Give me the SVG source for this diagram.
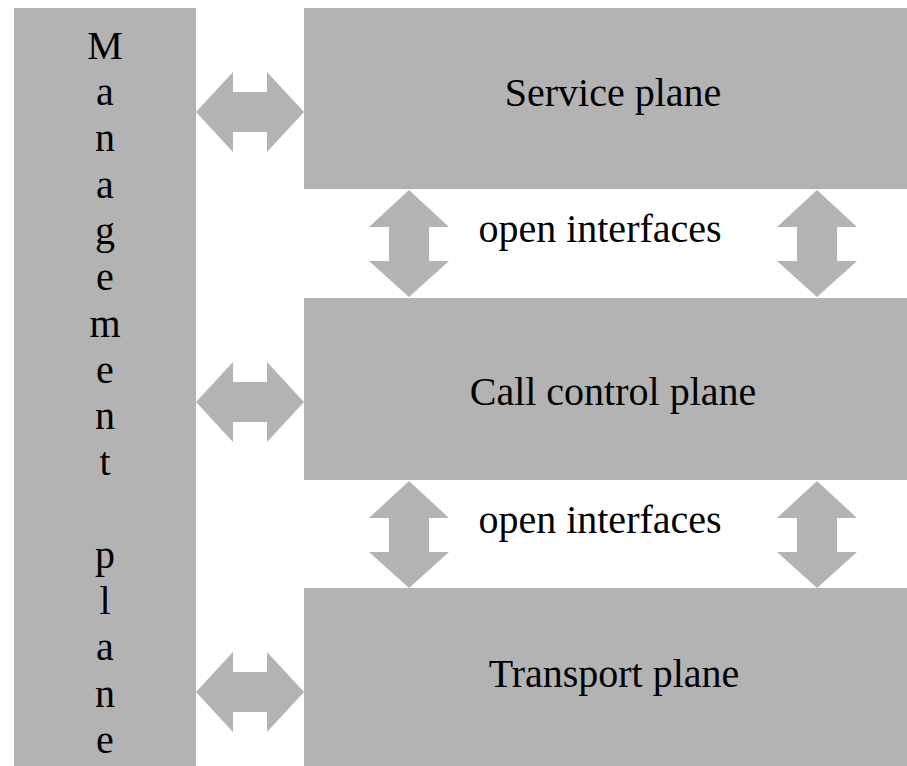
<svg xmlns="http://www.w3.org/2000/svg" width="907" height="766" viewBox="0 0 907 766">
<style>
.box{fill:#b3b3b3}
.arr{fill:#b3b3b3}
.t{font-family:"Liberation Serif","Times New Roman",serif;font-size:40px;fill:#000;text-anchor:middle}
</style>
<defs>
<polygon id="harr" points="196,0 233,-40 233,-20 267,-20 267,-40 304,0 267,40 267,20 233,20 233,40"/>
<polygon id="varr" points="0,0 40,37 20,37 20,71 40,71 0,107 -40,71 -20,71 -20,37 -40,37"/>
</defs>
<rect width="907" height="766" fill="#fff"/>
<g id="management">
<rect class="box" x="14" y="8" width="182" height="758"/>
<text class="t" x="105" y="59">M</text>
<text class="t" x="105" y="105">a</text>
<text class="t" x="105" y="151">n</text>
<text class="t" x="105" y="198">a</text>
<text class="t" x="105" y="244">g</text>
<text class="t" x="105" y="290">e</text>
<text class="t" x="105" y="337">m</text>
<text class="t" x="105" y="383">e</text>
<text class="t" x="105" y="429">n</text>
<text class="t" x="105" y="475">t</text>
<text class="t" x="105" y="568">p</text>
<text class="t" x="105" y="614">l</text>
<text class="t" x="105" y="660">a</text>
<text class="t" x="105" y="707">n</text>
<text class="t" x="105" y="753">e</text>
</g>
<g id="service">
<rect class="box" x="304" y="8" width="603" height="181"/>
<text class="t" x="613" y="106">Service plane</text>
</g>
<g id="callcontrol">
<rect class="box" x="304" y="298" width="603" height="182"/>
<text class="t" x="613" y="405">Call control plane</text>
</g>
<g id="transport">
<rect class="box" x="304" y="588" width="603" height="178"/>
<text class="t" x="614" y="687">Transport plane</text>
</g>
<g id="labels">
<text class="t" x="600" y="242">open interfaces</text>
<text class="t" x="600" y="533">open interfaces</text>
</g>
<g id="connectors" class="arr">
<use href="#harr" transform="translate(0,112)"/>
<use href="#harr" transform="translate(0,402)"/>
<use href="#harr" transform="translate(0,692)"/>
<use href="#varr" transform="translate(409,190)"/>
<use href="#varr" transform="translate(817,190)"/>
<use href="#varr" transform="translate(409,481)"/>
<use href="#varr" transform="translate(817,481)"/>
</g>
</svg>
